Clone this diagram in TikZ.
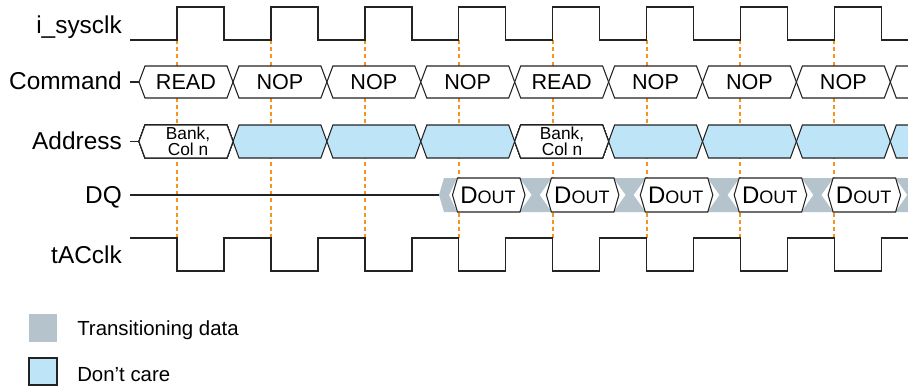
\documentclass[tikz,border=0pt]{standalone}
\usepackage{fontspec}
\setmainfont{Liberation Sans}
\definecolor{dcblue}{RGB}{190,228,248}
\definecolor{trgrey}{RGB}{180,195,204}
\definecolor{clkorange}{RGB}{247,148,29}
\definecolor{wave}{RGB}{35,35,35}
% hexagonal bus segment: #1 style, #2 left apex, #3 right apex, #4 top, #5 bottom, #6 slant
\newcommand\hexseg[6]{%
  \path[#1] (#2,{(#4+#5)/2}) -- ({#2+#6},#4) -- ({#3-#6},#4) -- (#3,{(#4+#5)/2})
    -- ({#3-#6},#5) -- ({#2+#6},#5) -- cycle;}
\begin{document}
\begin{tikzpicture}[x=0.75pt,y=-0.75pt,
  wire/.style={draw=wave,line width=1.1pt,line join=miter},
  busbox/.style={draw=wave,line width=0.8pt,fill=white},
  dcbox/.style={busbox,fill=dcblue},
  transfill/.style={fill=trgrey},
  guide/.style={draw=clkorange,line width=1.5pt,dash pattern=on 3pt off 2.4pt},
  siglabel/.style={font=\fontsize{18.3}{20}\selectfont,anchor=base east,inner sep=0pt},
  buslabel/.style={font=\fontsize{16.2}{18}\selectfont,inner sep=0pt},
  smalllabel/.style={font=\fontsize{13}{12}\selectfont,align=center,inner sep=0pt},
  legendtext/.style={font=\fontsize{15.3}{17}\selectfont,anchor=base west,inner sep=0pt}]
\useasboundingbox (0,0) rectangle (908,389);

\begin{scope}
\clip (0,0) rectangle (908,389);

% sampling guides at the rising edges of i_sysclk
\foreach \k in {0,...,7}
  \draw[guide] ({177+93.9*\k},40) -- ({177+93.9*\k},238);

% i_sysclk
\draw[wire] (130,40)
  \foreach \k in {0,...,7}{
    -- ({177+93.9*\k},40) -- ({177+93.9*\k},7) -- ({224+93.9*\k},7) -- ({224+93.9*\k},40)}
  -- (908,40);

% tACclk
\draw[wire] (130,238)
  \foreach \k in {0,...,7}{
    -- ({177+93.9*\k},238) -- ({177+93.9*\k},271) -- ({224+93.9*\k},271) -- ({224+93.9*\k},238)}
  -- (908,238);

% Command bus
\draw[wire,line width=0.8pt] (130,82) -- (139,82);
\foreach \a/\b/\t [count=\i] in {139/233/READ, 233/326.9/NOP, 326.9/420.8/NOP,
    420.8/514.7/NOP, 514.7/608.6/READ, 608.6/702.5/NOP, 702.5/796.4/NOP,
    796.4/890.3/NOP, 890.3/984.2/{}}{
  \hexseg{busbox}{\a}{\b}{66}{98}{6}
  \node[buslabel] (cmd\i) at ({(\a+\b)/2},82) {\t};
}

% Address bus
\draw[wire,line width=0.8pt] (130,141.5) -- (139,141.5);
\foreach \a/\b in {233/326.9, 326.9/420.8, 420.8/514.7, 608.6/702.5,
    702.5/796.4, 796.4/890.3, 890.3/984.2}
  \hexseg{dcbox}{\a}{\b}{125}{158}{6}
\hexseg{busbox}{139}{233}{125}{158}{6}
\hexseg{busbox}{514.7}{608.6}{125}{158}{6}
\node[smalllabel] (addr1) at (188,141) {Bank,\\Col n};
\node[smalllabel] (addr2) at (562,141) {Bank,\\Col n};

% DQ bus
\draw[wire,line width=0.8pt] (130,195) -- (440,195);
\path[transfill] (439,195) -- (444,178) -- (457,178) -- (449,195) -- (457,212) -- (444,212) -- cycle;
\foreach \k in {0,...,4}{
  \pgfmathsetmacro\t{535.7+93.9*\k}
  \path[transfill] ({\t-16},178) -- ({\t+16},178) -- ({\t+4},195) -- ({\t+16},212)
    -- ({\t-16},212) -- ({\t-4},195) -- cycle;
  \hexseg{busbox}{452.5+93.9*\k}{525+93.9*\k}{178}{212}{5}
  \node[inner sep=0pt] (dq\k) at ({488+93.9*\k},195.5)
    {{\fontsize{18}{20}\selectfont D}{\fontsize{13.5}{15}\selectfont OUT}};
}
\end{scope}

% signal names
\node[siglabel] (lclk) at (122,33) {i\_sysclk};
\node[siglabel] (lcmd) at (122,89.5) {Command};
\node[siglabel] (ladr) at (122,149) {Address};
\node[siglabel] (ldq)  at (122,203) {DQ};
\node[siglabel] (ltac) at (122,263) {tACclk};

% legend
\path[transfill] (29,314) rectangle (57,342);
\path[dcbox] (29,358) rectangle (57,385);
\node[legendtext] (lgtr) at (77,335.5) {Transitioning data};
\node[legendtext] (lgdc) at (77,381.5) {Don’t care};
\end{tikzpicture}
\end{document}
